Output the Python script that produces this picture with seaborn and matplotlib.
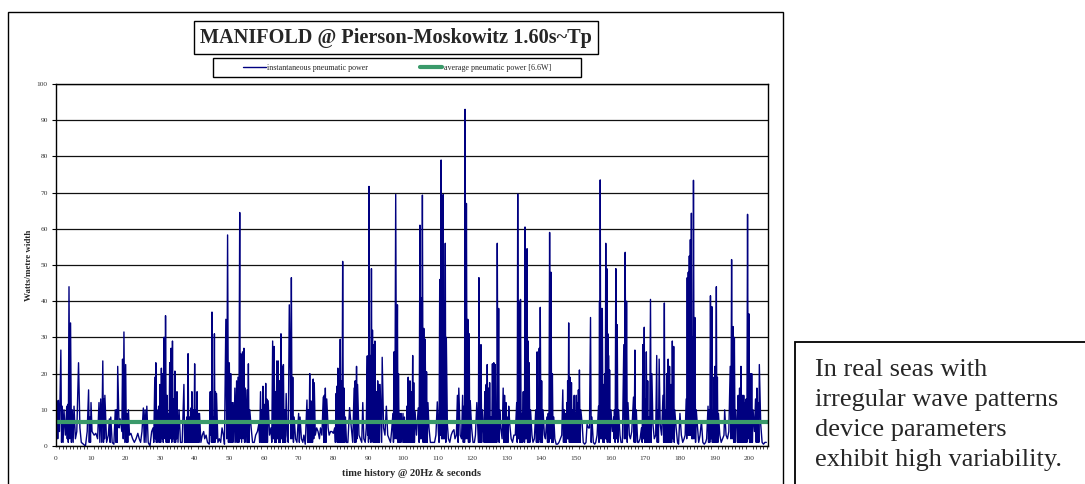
import pandas as pd
import matplotlib.pyplot as plt
import seaborn as sns
from matplotlib.patches import Rectangle

# (time s, power W/m), one list per 50 s stretch
trace_000_050 = [
    (0.0, 1), (0.3, 12.5), (0.5, 2), (0.7, 12.6), (1.0, 4), (1.4, 26.5), (1.6, 1), (1.8, 11), (2.05, 1), (2.3, 10),
    (2.7, 3), (3.1, 11), (3.25, 2), (3.4, 11.5), (3.55, 1), (3.75, 44), (4.0, 2), (4.2, 34), (4.45, 1), (4.7, 10),
    (4.95, 1), (5.2, 11), (5.6, 2), (6.0, 4), (6.5, 23), (6.9, 5), (7.3, 1), (7.9, 0.5), (8.5, 0), (9.0, 4),
    (9.4, 15.5), (9.6, 1), (9.8, 8), (9.95, 1), (10.1, 12), (10.4, 4), (11.0, 3), (11.5, 3.5), (12.0, 2), (12.4, 12),
    (12.65, 1), (12.9, 13), (13.2, 1), (13.5, 23.5), (13.7, 1), (13.9, 13), (14.0, 2), (14.1, 14), (14.6, 1), (15.1, 3),
    (15.4, 7.5), (15.6, 1), (15.8, 8), (16.2, 1), (16.7, 0.5), (17.1, 10), (17.3, 1), (17.5, 10), (17.65, 1), (17.8, 22),
    (18.2, 5), (18.5, 7.5), (19.0, 4), (19.2, 24), (19.4, 2), (19.6, 31.5), (19.85, 1), (20.1, 22.5), (20.3, 1), (20.5, 9),
    (20.7, 1), (20.9, 10), (21.2, 3), (21.6, 3.5), (22.1, 2), (22.6, 1), (23.1, 2), (23.6, 3.5), (24.0, 2), (24.4, 1),
    (24.8, 4), (25.2, 10.5), (25.45, 1), (25.7, 10), (25.95, 1), (26.2, 11), (26.6, 1), (27.1, 0), (27.6, 4), (28.0, 5),
    (28.2, 1), (28.5, 19), (28.65, 2), (28.8, 23), (28.95, 1), (29.1, 10), (29.35, 1), (29.6, 11), (29.8, 1), (30.0, 17),
    (30.2, 1), (30.4, 21.5), (30.6, 2), (30.8, 20), (30.95, 1), (31.1, 30), (31.2, 3), (31.3, 30), (31.45, 2), (31.6, 36),
    (31.8, 1), (32.0, 14), (32.2, 1), (32.4, 9), (32.6, 1), (32.8, 23), (33.0, 2), (33.2, 27), (33.4, 1), (33.6, 29),
    (33.8, 2), (34.0, 13), (34.15, 1), (34.3, 20.7), (34.5, 1), (34.7, 10), (34.8, 2), (34.9, 15), (35.2, 1), (35.5, 10),
    (35.9, 1), (36.4, 1), (36.9, 17), (37.1, 1), (37.3, 7), (37.5, 1), (37.7, 8), (37.9, 1), (38.1, 25.5), (38.3, 1),
    (38.5, 8), (38.7, 1), (38.9, 10.5), (39.05, 1), (39.2, 15), (39.4, 1), (39.6, 10), (39.8, 1), (40.0, 22.7), (40.2, 1),
    (40.4, 10), (40.55, 1), (40.7, 15), (40.9, 1), (41.1, 9), (41.25, 1), (41.4, 9), (41.8, 1), (42.2, 3), (42.6, 4),
    (42.9, 2), (43.3, 3), (43.7, 1), (44.2, 0.5), (44.5, 15), (44.6, 3), (44.7, 15), (44.85, 1), (45.0, 37), (45.2, 1),
    (45.4, 8), (45.55, 1), (45.7, 31), (45.85, 1), (46.0, 15), (46.15, 2), (46.3, 14.5), (46.7, 1), (47.1, 2), (47.5, 1),
    (47.9, 5), (48.3, 3), (48.6, 0.5), (49.0, 35), (49.25, 2), (49.5, 58.3), (49.75, 1),
]
trace_050_100 = [
    (50.0, 23), (50.2, 1), (50.4, 20), (50.55, 1), (50.7, 12), (50.9, 1), (51.1, 12), (51.35, 1), (51.6, 16), (51.85, 1),
    (52.1, 18), (52.3, 1), (52.5, 19), (52.75, 1), (53.0, 64.5), (53.15, 2), (53.3, 25.5), (53.55, 1), (53.8, 26), (54.0, 2),
    (54.2, 27), (54.4, 1), (54.6, 16), (54.85, 1), (55.1, 15.5), (55.3, 1), (55.5, 22.7), (55.7, 1), (55.9, 10), (56.3, 5),
    (56.7, 1), (57.2, 1), (57.6, 3), (58.1, 4), (58.5, 6), (58.75, 1), (59.0, 15), (59.2, 1), (59.4, 10), (59.55, 1),
    (59.7, 16.5), (59.9, 1), (60.1, 11.5), (60.3, 1), (60.5, 17.3), (60.65, 1), (60.8, 13), (61.0, 1), (61.2, 12.5), (61.6, 3),
    (62.0, 5), (62.25, 1), (62.5, 29), (62.7, 2), (62.9, 27.5), (63.1, 1), (63.3, 15), (63.5, 1), (63.7, 23.5), (63.9, 2),
    (64.1, 23.5), (64.3, 1), (64.5, 18), (64.7, 1), (64.9, 31), (65.05, 2), (65.2, 22), (65.4, 1), (65.6, 22.5), (65.8, 1),
    (66.0, 10), (66.2, 1), (66.4, 14.5), (66.7, 3), (67.0, 1), (67.3, 39), (67.6, 20), (67.75, 2), (67.9, 46.5), (68.1, 2),
    (68.3, 19), (68.5, 1), (68.7, 8), (69.1, 2), (69.5, 1), (70.0, 9), (70.2, 1), (70.4, 8), (70.8, 2), (71.2, 1),
    (71.5, 3), (71.9, 0.5), (72.4, 12.7), (72.6, 1), (72.8, 10), (73.0, 1), (73.2, 20), (73.35, 1), (73.5, 12.5), (73.65, 1),
    (73.8, 12), (74.0, 1), (74.2, 18.5), (74.35, 2), (74.5, 17.5), (74.8, 3), (75.2, 5), (75.6, 4), (76.0, 2), (76.3, 5),
    (76.7, 3), (77.1, 13.5), (77.25, 1), (77.4, 14), (77.55, 1), (77.7, 16), (77.9, 1), (78.1, 13), (78.5, 5), (78.8, 3),
    (79.2, 4), (79.6, 4), (80.0, 3.5), (80.4, 5), (80.6, 1), (80.8, 14.5), (80.9, 2), (81.0, 16.5), (81.15, 1), (81.3, 21.5),
    (81.45, 1), (81.6, 18), (81.8, 1), (82.0, 29.5), (82.15, 1), (82.3, 18), (82.5, 1), (82.7, 51), (82.9, 1), (83.1, 16),
    (83.3, 1), (83.5, 8), (83.8, 1), (84.2, 1), (84.7, 10.6), (85.1, 6), (85.6, 1), (86.0, 16), (86.15, 1), (86.3, 18),
    (86.5, 1), (86.7, 22), (86.85, 2), (87.0, 17), (87.4, 3), (87.8, 2), (88.2, 1), (88.5, 12), (88.8, 2), (89.2, 1),
    (89.5, 5), (89.8, 24.9), (89.9, 3), (90.0, 16), (90.15, 1), (90.3, 71.7), (90.5, 2), (90.7, 25), (90.85, 1), (91.0, 49),
    (91.15, 2), (91.3, 32), (91.5, 1), (91.7, 28), (91.85, 1), (92.0, 29), (92.2, 1), (92.4, 15), (92.6, 1), (92.8, 18),
    (92.95, 1), (93.1, 17), (93.3, 1), (93.5, 17), (93.8, 7), (93.95, 1), (94.1, 24.5), (94.5, 5), (94.9, 3), (95.3, 11),
    (95.7, 3), (96.1, 2), (96.5, 1), (96.8, 4), (97.2, 9), (97.35, 1), (97.5, 26), (97.75, 2), (98.0, 69.5), (98.25, 2),
    (98.5, 39), (98.65, 1), (98.8, 20), (99.0, 1), (99.2, 9), (99.4, 1), (99.6, 9), (99.85, 1),
]
trace_100_150 = [
    (100.1, 9), (100.3, 1), (100.5, 8), (100.7, 1), (100.9, 7), (101.05, 1), (101.2, 11), (101.4, 1), (101.6, 19), (101.75, 1),
    (101.9, 10), (102.0, 1), (102.1, 18), (102.3, 1), (102.5, 15), (102.7, 1), (102.9, 25), (103.05, 1), (103.2, 17.5), (103.4, 1),
    (103.6, 9.5), (104.0, 3), (104.5, 10.5), (104.75, 1), (105.0, 61), (105.15, 2), (105.3, 41), (105.5, 2), (105.7, 69.3), (105.9, 1),
    (106.1, 32.5), (106.3, 1), (106.5, 29.5), (106.7, 1), (106.9, 20.5), (107.1, 1), (107.3, 12), (107.6, 5), (108.0, 1), (108.4, 1),
    (108.8, 1), (109.2, 1), (109.6, 3), (110.0, 12.2), (110.3, 4), (110.5, 1), (110.7, 46), (110.8, 3), (110.9, 35), (111.0, 3),
    (111.1, 79), (111.25, 2), (111.4, 46), (111.55, 2), (111.7, 69.5), (111.85, 2), (112.0, 40), (112.15, 2), (112.3, 56), (112.45, 1),
    (112.6, 30), (112.9, 6), (113.2, 2), (113.6, 1), (114.0, 3), (114.4, 4), (114.8, 4.5), (115.1, 2), (115.5, 3), (115.8, 14),
    (116.0, 1), (116.2, 16), (116.6, 3), (117.0, 2), (117.3, 14), (117.5, 1), (117.7, 11), (117.85, 1), (118.0, 93), (118.2, 2),
    (118.4, 67), (118.6, 2), (118.8, 35), (119.0, 1), (119.2, 31), (119.35, 1), (119.5, 12.5), (119.9, 5), (120.3, 1), (120.7, 1),
    (121.0, 3), (121.4, 12), (121.7, 5), (121.85, 1), (122.0, 46.5), (122.15, 1), (122.3, 20), (122.45, 1), (122.6, 28), (122.8, 1),
    (123.0, 10), (123.3, 5), (123.5, 1), (123.7, 15), (123.9, 1), (124.1, 17), (124.25, 1), (124.4, 22.5), (124.6, 1), (124.8, 16),
    (124.95, 1), (125.1, 17.5), (125.3, 1), (125.5, 8), (125.7, 1), (125.9, 22.7), (126.1, 1), (126.3, 23), (126.5, 1), (126.7, 22.5),
    (126.85, 1), (127.0, 10), (127.15, 1), (127.3, 56), (127.5, 2), (127.7, 38), (127.85, 1), (128.0, 10), (128.3, 5), (128.7, 2),
    (129.0, 16), (129.2, 1), (129.4, 14), (129.6, 1), (129.8, 12), (130.0, 1), (130.2, 8), (130.4, 1), (130.6, 11), (130.9, 6),
    (131.3, 2), (131.7, 1), (132.1, 3), (132.5, 3), (132.9, 12), (133.05, 1), (133.2, 69.6), (133.4, 2), (133.6, 40), (133.8, 1),
    (134.0, 40.5), (134.2, 1), (134.4, 9), (134.6, 1), (134.8, 15), (134.9, 2), (135.0, 13), (135.15, 1), (135.3, 60.5), (135.45, 2),
    (135.6, 54), (135.75, 2), (135.9, 54.5), (136.05, 1), (136.2, 29), (136.35, 1), (136.5, 23), (136.7, 1), (136.9, 10), (137.3, 3),
    (137.6, 1), (138.0, 2), (138.4, 10), (138.6, 1), (138.8, 26), (138.95, 1), (139.1, 14), (139.25, 1), (139.4, 27), (139.55, 2),
    (139.7, 38.3), (139.9, 1), (140.1, 18), (140.3, 1), (140.5, 10), (140.9, 3), (141.2, 2), (141.6, 8), (141.8, 1), (142.0, 9),
    (142.2, 1), (142.4, 59), (142.6, 2), (142.8, 48), (143.0, 1), (143.2, 20), (143.4, 1), (143.6, 8), (143.9, 2), (144.3, 0.5),
    (144.7, 0.5), (145.1, 1), (145.5, 2), (145.9, 3), (146.2, 15.5), (146.4, 1), (146.6, 10), (146.8, 1), (147.0, 9), (147.2, 1),
    (147.4, 12), (147.5, 2), (147.6, 18), (147.75, 2), (147.9, 34), (148.1, 1), (148.3, 19), (148.5, 1), (148.7, 17.5), (148.9, 1),
    (149.1, 10), (149.3, 1), (149.5, 14), (149.65, 1), (149.8, 9), (149.95, 1),
]
trace_150_205 = [
    (150.1, 14), (150.25, 1), (150.4, 12), (150.55, 1), (150.7, 15.5), (150.85, 1), (151.0, 21), (151.2, 1), (151.4, 10), (151.8, 6),
    (152.1, 1), (152.5, 0.5), (152.9, 1), (153.2, 6), (153.6, 5), (153.9, 5), (154.2, 35.5), (154.4, 1), (154.6, 8), (155.0, 1),
    (155.4, 0.5), (155.7, 1), (156.1, 3), (156.5, 11), (156.65, 1), (156.8, 40), (156.9, 3), (157.0, 73.5), (157.15, 2), (157.3, 38),
    (157.45, 2), (157.6, 38), (157.8, 1), (158.0, 17), (158.15, 1), (158.3, 20), (158.45, 2), (158.6, 56), (158.75, 2), (158.9, 49),
    (159.05, 1), (159.2, 31), (159.3, 2), (159.4, 25), (159.55, 1), (159.7, 21), (159.9, 1), (160.1, 10), (160.5, 4), (160.9, 8),
    (161.0, 2), (161.1, 10), (161.3, 1), (161.5, 49), (161.7, 2), (161.9, 33.5), (162.1, 1), (162.3, 10), (162.7, 3), (163.0, 1),
    (163.4, 1), (163.8, 28), (164.0, 2), (164.2, 53.5), (164.4, 2), (164.6, 40), (164.8, 1), (165.0, 12), (165.4, 3), (165.7, 2),
    (166.1, 4), (166.6, 13.5), (166.8, 1), (167.0, 26.5), (167.2, 1), (167.4, 10), (167.8, 1), (168.1, 1), (168.5, 2), (168.9, 5),
    (169.1, 1), (169.3, 28), (169.5, 2), (169.7, 32.8), (169.85, 1), (170.0, 13), (170.15, 1), (170.3, 26), (170.5, 1), (170.7, 18),
    (170.85, 1), (171.0, 8), (171.25, 1), (171.5, 40.5), (171.7, 1), (171.9, 20), (172.2, 6), (172.6, 2), (173.0, 3), (173.3, 25),
    (173.45, 1), (173.6, 10), (173.8, 1), (174.0, 24), (174.3, 6), (174.7, 3), (175.1, 14), (175.3, 1), (175.5, 39.5), (175.65, 1),
    (175.8, 10), (176.0, 1), (176.2, 20), (176.4, 1), (176.6, 24), (176.8, 1), (177.0, 22), (177.2, 1), (177.4, 17), (177.6, 1),
    (177.8, 29), (178.0, 2), (178.2, 27.5), (178.35, 1), (178.5, 10), (178.9, 5), (179.3, 1), (179.6, 0.5), (180.0, 9), (180.4, 3),
    (180.8, 1), (181.2, 2), (181.5, 3), (181.8, 13), (181.95, 2), (182.1, 46.5), (182.25, 3), (182.4, 48), (182.55, 3), (182.7, 52.5),
    (182.85, 3), (183.0, 57), (183.15, 3), (183.3, 64.3), (183.45, 2), (183.6, 30), (183.75, 2), (183.9, 73.4), (184.1, 2), (184.3, 35.5),
    (184.5, 1), (184.7, 10), (185.1, 5), (185.4, 1), (185.8, 3), (186.2, 7), (186.6, 1), (187.0, 0.5), (187.4, 1), (187.7, 2),
    (188.1, 11), (188.25, 1), (188.4, 10), (188.6, 1), (188.8, 41.5), (189.0, 2), (189.2, 38.5), (189.35, 1), (189.5, 9), (189.65, 1),
    (189.8, 19), (189.95, 1), (190.1, 22), (190.3, 1), (190.5, 44), (190.65, 1), (190.8, 19), (190.95, 1), (191.1, 9), (191.5, 3),
    (191.9, 1), (192.3, 2), (192.7, 3), (192.9, 10), (193.3, 3), (193.7, 2), (194.1, 4), (194.5, 22), (194.7, 2), (194.9, 51.5),
    (195.1, 2), (195.3, 33), (195.5, 1), (195.7, 30), (195.9, 1), (196.1, 10), (196.4, 5), (196.6, 1), (196.8, 14), (197.0, 1),
    (197.2, 16), (197.4, 1), (197.6, 22), (197.8, 1), (198.0, 14), (198.2, 1), (198.4, 14), (198.55, 1), (198.7, 12), (198.9, 1),
    (199.1, 13), (199.3, 1), (199.5, 64), (199.7, 2), (199.9, 36.5), (200.1, 1), (200.3, 20), (200.5, 1), (200.7, 20), (200.9, 1),
    (201.1, 10), (201.5, 4), (201.8, 13), (202.0, 1), (202.2, 16), (202.4, 1), (202.6, 12), (202.75, 1), (202.9, 22.5), (203.3, 6),
    (203.7, 1), (204.1, 0.5), (204.5, 1), (204.9, 1),
]
avg_power = 6.6
x_ticks = list(range(0, 201, 10))
y_ticks = list(range(0, 101, 10))

title = "MANIFOLD @ Pierson-Moskowitz 1.60s~Tp"
series_labels = ["instantaneous pneumatic power", "average pneumatic power [6.6W]"]
note_lines = ["In real seas with", "irregular wave patterns", "device parameters", "exhibit high variability."]

sns.set_style("white")
plt.rcParams["font.family"] = ["Liberation Serif", "DejaVu Serif"]

W, H = 1085, 484
fig = plt.figure(figsize=(W / 100, H / 100), dpi=100)


def fx(px):
    return px / W


def fy(py):
    return 1 - py / H


# outer chart frame and note box (both run off the bottom of the picture)
fig.patches.append(Rectangle((fx(8), fy(492)), fx(783) - fx(8), fy(12) - fy(492),
                             transform=fig.transFigure, fill=False, ec="black", lw=1.0))
fig.patches.append(Rectangle((fx(795), fy(492)), fx(1095) - fx(795), fy(342) - fy(492),
                             transform=fig.transFigure, fill=False, ec="black", lw=1.3))

ax = fig.add_axes([fx(56), fy(446), fx(768) - fx(56), fy(84) - fy(446)])
df = pd.DataFrame(trace_000_050 + trace_050_100 + trace_100_150 + trace_150_205,
                  columns=["time", "power"])
sns.lineplot(data=df, x="time", y="power", ax=ax, color="#000080", lw=1.0,
             estimator=None, label=series_labels[0], legend=False)
ax.axhline(avg_power, color="#3a9a6a", lw=3.0, label=series_labels[1])

ax.set_xlim(0, 205.4)
ax.set_ylim(0, 100)
ax.set_xticks(x_ticks)
ax.set_xticks(range(0, 206), minor=True)
ax.set_yticks(y_ticks)
ax.yaxis.grid(True, color="#111111", lw=0.9)
ax.set_axisbelow(True)
for s in ax.spines.values():
    s.set_color("black")
    s.set_linewidth(1.0)
ax.tick_params(axis="both", labelsize=5.3, labelcolor="#333333", direction="out", color="black")
ax.tick_params(axis="x", which="major", length=3, width=0.8, pad=4)
ax.tick_params(axis="x", which="minor", length=2, width=0.6, bottom=True)
ax.tick_params(axis="y", length=3, width=0.8, pad=3, left=True)
ax.set_xlabel("time history @ 20Hz & seconds", fontsize=7.5, fontweight="bold", labelpad=6)
ax.set_ylabel("Watts/metre width", fontsize=6.5, fontweight="bold", labelpad=3)

# title box
fig.patches.append(Rectangle((fx(194), fy(54)), fx(598) - fx(194), fy(21) - fy(54),
                             transform=fig.transFigure, fill=False, ec="black", lw=1.0))
fig.text(fx(396), fy(38), title, ha="center", va="center", fontsize=14.6, fontweight="bold")

# legend box
fig.patches.append(Rectangle((fx(213), fy(77)), fx(581) - fx(213), fy(58) - fy(77),
                             transform=fig.transFigure, fill=False, ec="black", lw=1.0))
handles, labels = ax.get_legend_handles_labels()
fig.legend(handles, labels, loc="center", ncol=2, mode="expand", frameon=False,
           bbox_to_anchor=(fx(243), fy(76), fx(551) - fx(243), fy(59) - fy(76)),
           bbox_transform=fig.transFigure, fontsize=5.8, handlelength=2.8,
           handletextpad=0.2, borderaxespad=0, borderpad=0)

fig.text(fx(815), fy(359), "\n".join(note_lines), ha="left", va="top",
         fontsize=19, linespacing=1.47)

fig.savefig("out.png", dpi=100)
